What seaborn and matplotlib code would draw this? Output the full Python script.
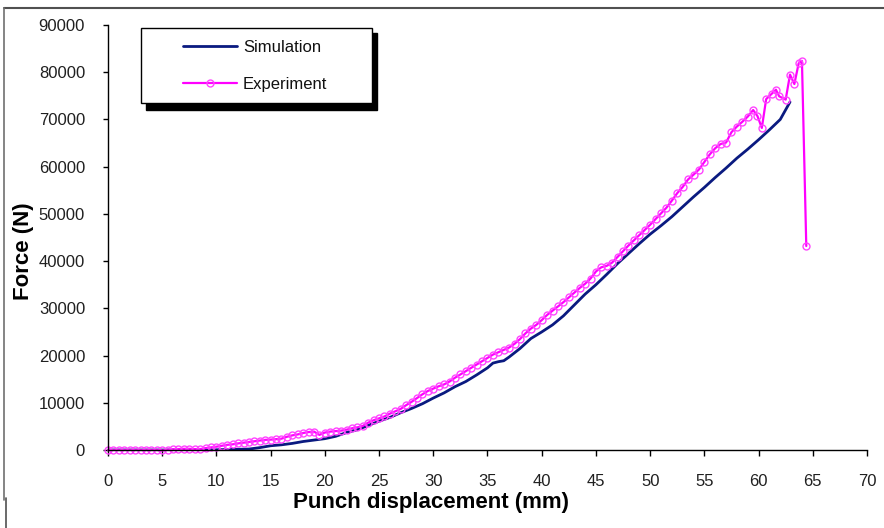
import matplotlib
matplotlib.use("Agg")
import matplotlib.pyplot as plt
from matplotlib.lines import Line2D
from matplotlib.patches import Rectangle
import seaborn as sns
import pandas as pd

# ---------------- data ----------------
sim_x = [0, 5, 8, 10, 11, 12, 13, 14, 15, 16, 17, 18, 19, 20, 21, 22, 23, 24, 25,
         26, 27, 28, 29, 30, 31, 32, 33, 34, 35, 35.5, 36, 36.5, 37, 38, 39, 40,
         41, 42, 43, 44, 45, 46, 47, 48, 49, 50, 51, 52, 53, 54, 55, 56, 57, 58,
         59, 60, 61, 62, 62.9]
sim_y = [0, 0, 0, 50, 100, 150, 200, 500, 900, 1100, 1400, 1800, 2100, 2400, 2900,
         3700, 4300, 5200, 6100, 6900, 7900, 8800, 9800, 11000, 12100, 13400, 14500,
         15900, 17400, 18400, 18700, 18900, 19700, 21500, 23600, 25000, 26500, 28400,
         30700, 33000, 35000, 37200, 39500, 41600, 43700, 45700, 47500, 49400, 51500,
         53600, 55600, 57700, 59700, 61800, 63700, 65700, 67800, 70000, 73700]

exp_x = [0, 0.5, 1, 1.5, 2, 2.5, 3, 3.5, 4, 4.5, 5, 5.5, 6, 6.5, 7, 7.5, 8, 8.5, 9,
         9.5, 10, 10.5, 11, 11.5, 12, 12.5, 13, 13.5, 14, 14.5, 15, 15.5, 16, 16.5,
         17, 17.5, 18, 18.5, 19, 19.5, 20, 20.5, 21, 21.5, 22, 22.5, 23, 23.5, 24,
         24.5, 25, 25.5, 26, 26.5, 27, 27.5, 28, 28.5, 29, 29.5, 30, 30.5, 31, 31.5,
         32, 32.5, 33, 33.5, 34, 34.5, 35, 35.5, 36, 36.5, 37, 37.5, 38, 38.5, 39,
         39.5, 40, 40.5, 41, 41.5, 42, 42.5, 43, 43.5, 44, 44.5, 45, 45.5, 46, 46.5,
         47, 47.5, 48, 48.5, 49, 49.5, 50, 50.5, 51, 51.5, 52, 52.5, 53, 53.5, 54,
         54.5, 55, 55.5, 56, 56.5, 57, 57.5, 58, 58.5, 59, 59.5, 59.9, 60.3, 60.7,
         61.2, 61.6, 61.9, 62.5, 62.9, 63.3, 63.7, 64.0, 64.4]
exp_y = [0, 0, 0, 0, 0, 0, 0, 0, 0, 0, -100, 50, 150, 200, 250, 250, 200, 200, 400,
         550, 700, 900, 1100, 1200, 1400, 1550, 1700, 1850, 2000, 2150, 2200, 2300,
         2400, 2800, 3100, 3300, 3600, 3800, 3900, 3200, 3700, 3900, 4000, 4100, 4300,
         4600, 4800, 5100, 5800, 6300, 6700, 7100, 7700, 8200, 8700, 9500, 10200,
         11000, 11800, 12500, 13000, 13500, 13900, 14500, 15300, 16000, 16700, 17400,
         18100, 18800, 19500, 20200, 20700, 21200, 21700, 22500, 23500, 24700, 25700,
         26500, 27500, 28600, 29500, 30400, 31300, 32300, 33300, 34300, 35200, 36300,
         37800, 38700, 39000, 39700, 40900, 42100, 43300, 44400, 45500, 46600, 47700,
         48900, 50100, 51300, 52800, 54400, 55700, 57300, 58300, 59400, 61000, 62600,
         63900, 64800, 65100, 67300, 68500, 69500, 70600, 72000, 70700, 68200, 74300,
         75400, 76300, 74900, 74200, 79500, 77500, 81900, 82400, 43200]

x_ticks = [0, 5, 10, 15, 20, 25, 30, 35, 40, 45, 50, 55, 60, 65, 70]
y_ticks = [0, 10000, 20000, 30000, 40000, 50000, 60000, 70000, 80000, 90000]
series_names = ["Simulation", "Experiment"]
x_label = "Punch displacement (mm)"
y_label = "Force (N)"

# ---------------- style ----------------
sns.set_theme(style="white")
plt.rcParams["font.family"] = ["Liberation Sans", "DejaVu Sans"]

W, H = 884, 528
fig = plt.figure(figsize=(W / 100, H / 100), dpi=100)
ax = fig.add_axes([108 / W, 1 - 450 / H, (867 - 108) / W, (450 - 25) / H])

sim_df = pd.DataFrame({"x": sim_x, "y": sim_y})
exp_df = pd.DataFrame({"x": exp_x, "y": exp_y})

sns.lineplot(data=sim_df, x="x", y="y", ax=ax, color="#0A1A80", linewidth=2,
             estimator=None, sort=False, label=series_names[0])
sns.lineplot(data=exp_df, x="x", y="y", ax=ax, color="#FF00FF", linewidth=1.6,
             marker="o", markersize=5, markerfacecolor="none",
             markeredgecolor="#FF44FF", markeredgewidth=1.0,
             estimator=None, sort=False, label=series_names[1], clip_on=False)

ax.set_xlim(0, 70)
ax.set_ylim(0, 90000)
ax.set_xticks(x_ticks)
ax.set_yticks(y_ticks)
ax.set_xticklabels([str(v) for v in x_ticks])
ax.set_yticklabels([str(v) for v in y_ticks])
ax.tick_params(axis="x", direction="out", length=4, width=1, color="black",
               pad=13, labelsize=12, labelcolor="#202020", bottom=True)
ax.tick_params(axis="y", direction="out", length=3.5, width=1, color="black",
               pad=13, labelsize=12, labelcolor="#202020", left=True)

for side in ["top", "right"]:
    ax.spines[side].set_visible(False)
for side in ["left", "bottom"]:
    ax.spines[side].set_color("black")
    ax.spines[side].set_linewidth(1.0)
ax.grid(False)

ax.set_xlabel(x_label, fontsize=16, fontweight="bold", color="black")
ax.set_ylabel(y_label, fontsize=16, fontweight="bold", color="black")
ax.xaxis.set_label_coords((431 - 108) / 759, -42 / 425)
ax.yaxis.set_label_coords((34 - 108) / 759, (450 - 251) / 425)

# legend box with black shadow (figure level, above the axes)
fig.add_artist(Rectangle((145.5 / W, 1 - 110 / H), (377 - 145.5) / W, (110 - 33) / H,
                         transform=fig.transFigure, facecolor="black",
                         edgecolor="black", zorder=5))
fig.add_artist(Rectangle((140.7 / W, 1 - 103.3 / H), (372 - 140.7) / W, (103.3 - 27.7) / H,
                         transform=fig.transFigure, facecolor="white",
                         edgecolor="black", linewidth=1.0, zorder=6))
handles, labels = ax.get_legend_handles_labels()
if ax.get_legend() is not None:
    ax.get_legend().remove()
leg = fig.legend(handles, labels, loc="upper left", bbox_to_anchor=(183 / W, 1 - 40 / H),
                 bbox_transform=fig.transFigure, frameon=False, fontsize=12,
                 handlelength=3.24, handletextpad=0.36, labelspacing=1.34,
                 borderpad=0, borderaxespad=0)
leg.set_zorder(7)
for t in leg.get_texts():
    t.set_color("#111111")

# outer frame lines (top and left)
fig.add_artist(Line2D([4 / W, 1], [1 - 8 / H, 1 - 8 / H], transform=fig.transFigure,
                      color="#505050", linewidth=1.5))
fig.add_artist(Line2D([4 / W, 4 / W], [1 - 8 / H, 1 - 500 / H], transform=fig.transFigure,
                      color="#707070", linewidth=1.2))
fig.add_artist(Line2D([6 / W, 6 / W], [1 - 498 / H, 0], transform=fig.transFigure,
                      color="#505050", linewidth=1.2))

fig.savefig("out.png", dpi=100, facecolor="white")
